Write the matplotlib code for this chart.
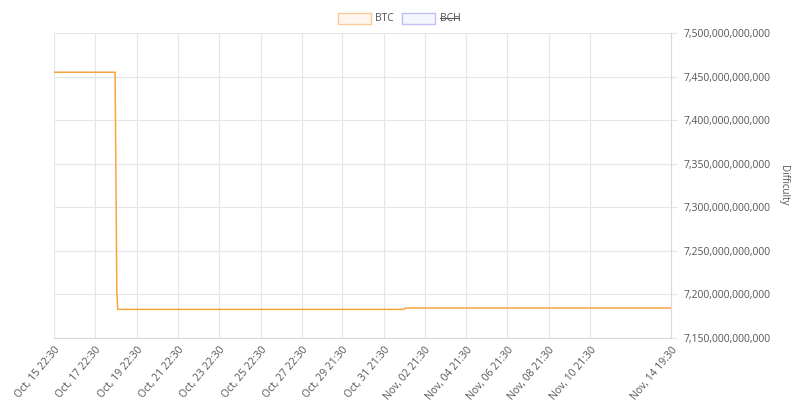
import matplotlib
matplotlib.use('Agg')
import matplotlib.pyplot as plt
from matplotlib.patches import Rectangle
from matplotlib.ticker import FuncFormatter
import pandas as pd

plt.rcParams['font.family'] = ['Open Sans', 'DejaVu Sans']

# dados
tempos = ['2018-10-15 22:30', '2018-10-18 21:30', '2018-10-18 23:30',
          '2018-10-19 00:30', '2018-11-01 21:30', '2018-11-01 22:30',
          '2018-11-14 19:30']
dificuldade_btc = [7454968648263, 7454968648263, 7205000000000,
                   7182852313938, 7182852313938, 7184404942701,
                   7184404942701]

rotulos_x = ['2018-10-15 22:30', '2018-10-17 22:30', '2018-10-19 22:30',
             '2018-10-21 22:30', '2018-10-23 22:30', '2018-10-25 22:30',
             '2018-10-27 22:30', '2018-10-29 21:30', '2018-10-31 21:30',
             '2018-11-02 21:30', '2018-11-04 21:30', '2018-11-06 21:30',
             '2018-11-08 21:30', '2018-11-10 21:30', '2018-11-14 19:30']
ticks_y = [7.15e12, 7.20e12, 7.25e12, 7.30e12, 7.35e12, 7.40e12, 7.45e12, 7.50e12]

cor_btc = '#f7a541'
cor_bch = '#8f8ff0'
cor_grade = '#e6e6e6'
cor_texto = '#555555'

t = pd.to_datetime(tempos)
tx = pd.to_datetime(rotulos_x)

fig = plt.figure(figsize=(8, 4.04), dpi=100)
ax = fig.add_axes([54 / 800, 1 - 338 / 404, (671 - 54) / 800, (338 - 33) / 404])

ax.plot(t, dificuldade_btc, color=cor_btc, linewidth=1.1)

ax.set_xlim(tx[0], tx[-1])
ax.set_ylim(ticks_y[0], ticks_y[-1])

ax.set_xticks(tx)
ax.set_xticklabels([d.strftime('%b, %d %H:%M') for d in tx], rotation=50,
                   ha='right', rotation_mode='anchor', fontsize=7.5, color=cor_texto)
ax.set_yticks(ticks_y)
ax.yaxis.set_major_formatter(FuncFormatter(lambda v, p: f'{int(round(v)):,}'))
ax.yaxis.tick_right()
ax.yaxis.set_label_position('right')
ax.tick_params(axis='y', labelsize=7.5, labelcolor=cor_texto, color=cor_grade, length=4, pad=5)
ax.tick_params(axis='x', color=cor_grade, length=0, pad=5)
ax.set_ylabel('Difficulty', rotation=-90, fontsize=7, color=cor_texto, labelpad=13)

ax.grid(True, color=cor_grade, linewidth=0.8)
ax.set_axisbelow(True)
for lado in ['top', 'left']:
    ax.spines[lado].set_visible(False)
for lado in ['bottom', 'right']:
    ax.spines[lado].set_color('#d9d9d9')
    ax.spines[lado].set_linewidth(0.8)

# legenda manual (BCH escondido, riscado)
def caixa(x0, x1, cor):
    fig.patches.append(Rectangle((x0 / 800, 1 - 24 / 404), (x1 - x0) / 800, 11 / 404,
                                 transform=fig.transFigure, facecolor=cor, alpha=0.08,
                                 edgecolor='none'))
    fig.patches.append(Rectangle((x0 / 800, 1 - 24 / 404), (x1 - x0) / 800, 11 / 404,
                                 transform=fig.transFigure, facecolor='none',
                                 edgecolor=cor, alpha=0.55, linewidth=1.0))

caixa(338, 371, cor_btc)
fig.text(375 / 800, 1 - 18.5 / 404, 'BTC', fontsize=7.5, color=cor_texto, va='center')
caixa(402, 435, cor_bch)
fig.text(440 / 800, 1 - 18.5 / 404, 'BCH', fontsize=7.5, color=cor_texto, va='center')
fig.add_artist(plt.Line2D([440 / 800, 459 / 800], [1 - 18 / 404, 1 - 18 / 404],
                          transform=fig.transFigure, color=cor_texto, linewidth=0.8))

fig.savefig('out.png', dpi=100)
